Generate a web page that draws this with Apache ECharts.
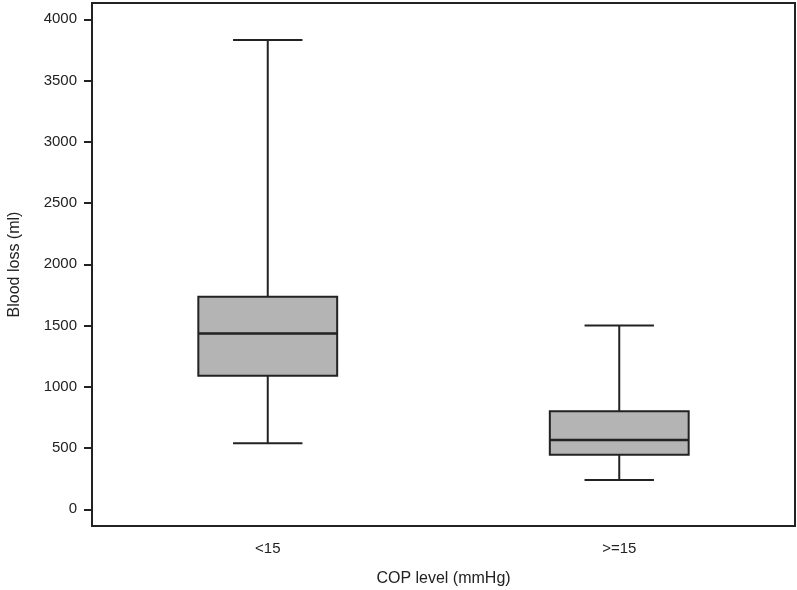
<!DOCTYPE html>
<html><head><meta charset="utf-8">
<script src="https://cdn.jsdelivr.net/npm/echarts@6/dist/echarts.min.js"></script>
<style>html,body{margin:0;padding:0;background:#fff}#c{width:797px;height:590px}</style>
</head><body><div id="c"></div>
<script>
var categories = ['<15', '>=15'];
var whiskerLow = [540, 240];
var q1 = [1090, 445];
var median = [1435, 565];
var q3 = [1735, 800];
var whiskerHigh = [3830, 1500];
var yTicks = [0, 500, 1000, 1500, 2000, 2500, 3000, 3500, 4000];

var data = categories.map(function (c, i) {
  return [i, whiskerLow[i], q1[i], median[i], q3[i], whiskerHigh[i]];
});

var chart = echarts.init(document.getElementById('c'));
var lineColor = '#222';
chart.setOption({
  animation: false,
  backgroundColor: '#fff',
  grid: { left: 92, right: 2, top: 3, bottom: 64, show: true, borderColor: lineColor, borderWidth: 2, backgroundColor: 'transparent', containLabel: false, outerBoundsMode: 'none' },
  xAxis: {
    type: 'category', data: categories, boundaryGap: true,
    name: 'COP level (mmHg)', nameLocation: 'middle', nameGap: 45,
    nameTextStyle: { fontFamily: 'Liberation Sans', fontSize: 16, color: '#222' },
    axisLine: { onZero: false, lineStyle: { color: lineColor, width: 2 } },
    axisTick: { alignWithLabel: true, length: 6, lineStyle: { color: lineColor, width: 2 } },
    axisLabel: { fontFamily: 'Liberation Sans', fontSize: 15, color: '#222', margin: 15 },
    splitLine: { show: false }
  },
  yAxis: {
    type: 'value', min: -136, max: 4133,
    name: 'Blood loss (ml)', nameLocation: 'middle', nameGap: 69, nameRotate: 90,
    nameTextStyle: { fontFamily: 'Liberation Sans', fontSize: 16, color: '#222' },
    axisLine: { show: true, onZero: false, lineStyle: { color: lineColor, width: 2 } },
    axisTick: { show: true, length: 8, customValues: yTicks, lineStyle: { color: lineColor, width: 2 } },
    axisLabel: { fontFamily: 'Liberation Sans', fontSize: 15, color: '#222', margin: 15, customValues: yTicks,
      formatter: function (v) { return String(v); } },
    splitLine: { show: false }
  },
  series: [{
    type: 'custom',
    data: data,
    encode: { x: 0, y: [1, 2, 3, 4, 5] },
    renderItem: function (params, api) {
      var x = api.value(0);
      var bw = api.size([1, 0])[0] * 0.395;
      var cw = bw / 2;
      var pLow = api.coord([x, api.value(1)]);
      var pQ1 = api.coord([x, api.value(2)]);
      var pMed = api.coord([x, api.value(3)]);
      var pQ3 = api.coord([x, api.value(4)]);
      var pHigh = api.coord([x, api.value(5)]);
      var cx = pQ1[0];
      var st = { stroke: lineColor, lineWidth: 2, fill: null };
      return {
        type: 'group',
        children: [
          { type: 'line', shape: { x1: cx, y1: pHigh[1], x2: cx, y2: pQ3[1] }, style: st },
          { type: 'line', shape: { x1: cx, y1: pLow[1], x2: cx, y2: pQ1[1] }, style: st },
          { type: 'line', shape: { x1: cx - cw / 2, y1: pHigh[1], x2: cx + cw / 2, y2: pHigh[1] }, style: st },
          { type: 'line', shape: { x1: cx - cw / 2, y1: pLow[1], x2: cx + cw / 2, y2: pLow[1] }, style: st },
          { type: 'rect', shape: { x: cx - bw / 2, y: pQ3[1], width: bw, height: pQ1[1] - pQ3[1] }, style: { fill: '#b4b4b4', stroke: lineColor, lineWidth: 2 } },
          { type: 'line', shape: { x1: cx - bw / 2, y1: pMed[1], x2: cx + bw / 2, y2: pMed[1] }, style: { stroke: lineColor, lineWidth: 2.5 } }
        ]
      };
    }
  }]
});
</script></body></html>
